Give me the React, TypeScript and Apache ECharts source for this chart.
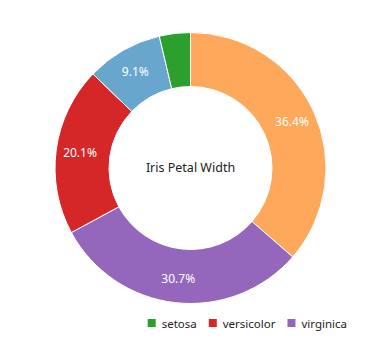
import React, { useEffect, useRef } from "react";
import * as echarts from "echarts";

const categories = ["orange-group", "virginica", "versicolor", "blue-group", "setosa"];
const shares = [36.4, 30.7, 20.1, 9.1, 3.7];
const colors = ["#fea85b", "#9467bd", "#d62728", "#68a6cd", "#2ca02c"];
const legendNames = ["setosa", "versicolor", "virginica"];
const centerTitle = "Iris Petal Width";

export default function App() {
  const ref = useRef<HTMLDivElement>(null);
  useEffect(() => {
    if (!ref.current) return;
    const chart = echarts.init(ref.current, null, { renderer: "svg" });
    chart.setOption({
      animation: false,
      textStyle: { fontFamily: "Noto Sans, sans-serif" },
      graphic: [
        {
          type: "text",
          x: 182.5,
          y: 159,
          style: {
            text: centerTitle,
            align: "center",
            verticalAlign: "middle",
            fontSize: 12.5,
            fontFamily: "Noto Sans, sans-serif",
            fill: "#222",
          },
        },
      ],
      legend: {
        data: legendNames,
        orient: "horizontal",
        right: 18,
        bottom: 12,
        icon: "rect",
        itemWidth: 10,
        itemHeight: 10,
        itemGap: 10,
        textStyle: { fontSize: 11.5, color: "#222" },
      },
      series: [
        {
          type: "pie",
          center: [182.5, 160],
          radius: [81.5, 135.5],
          startAngle: 90,
          clockwise: true,
          itemStyle: { borderColor: "#fff", borderWidth: 1 },
          label: {
            show: true,
            position: "inside",
            color: "#fff",
            fontSize: 12,
            formatter: (p: any) => (p.value >= 5 ? p.value.toFixed(1) + "%" : ""),
          },
          labelLine: { show: false },
          data: categories.map((c, i) => ({
            name: c,
            value: shares[i],
            itemStyle: { color: colors[i] },
          })),
        },
      ],
    });
    return () => chart.dispose();
  }, []);
  return <div ref={ref} style={{ width: 362, height: 338 }} />;
}
